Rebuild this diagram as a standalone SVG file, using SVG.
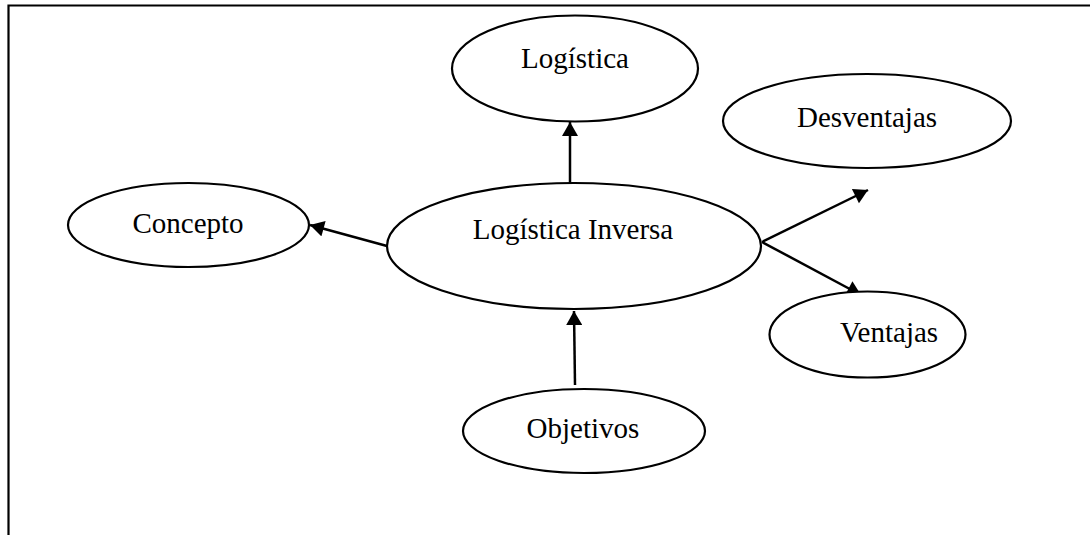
<svg xmlns="http://www.w3.org/2000/svg" width="1090" height="535" viewBox="0 0 1090 535">
  <style>
    .node ellipse { fill: #fff; stroke: #000; stroke-width: 2.2; }
    .node text { font-family: "Liberation Serif", "Times New Roman", serif; font-size: 29px; fill: #000; text-anchor: middle; }
    .edge { stroke: #000; stroke-width: 2.5; fill: none; marker-end: url(#arrow); }
    .frame { stroke: #000; stroke-width: 2.2; fill: none; }
  </style>
  <defs>
    <marker id="arrow" markerUnits="userSpaceOnUse" markerWidth="16" markerHeight="16" viewBox="0 0 14 16" refX="14" refY="8" orient="auto">
      <path d="M0,0 L14,8 L0,16 Z" fill="#000"/>
    </marker>
  </defs>
  <rect width="1090" height="535" fill="#fff"/>

  <!-- page frame: top and left rules -->
  <path class="frame" d="M8.5,535 L8.5,5.5 L1090,5.5"/>

  <!-- connectors -->
  <g id="connectors">
    <line class="edge" x1="570" y1="183" x2="570" y2="122"/>
    <line class="edge" x1="575" y1="385" x2="574" y2="311"/>
    <line class="edge" x1="387" y1="246" x2="310" y2="225"/>
    <line class="edge" x1="762" y1="242" x2="868" y2="190"/>
    <line class="edge" x1="762" y1="242" x2="861" y2="295"/>
  </g>

  <g id="logistica" class="node">
    <ellipse cx="575" cy="68.5" rx="123" ry="53"/>
    <text x="575" y="68">Logística</text>
  </g>

  <g id="logistica-inversa" class="node">
    <ellipse cx="574" cy="246" rx="187" ry="63"/>
    <text x="573" y="239">Logística Inversa</text>
  </g>

  <g id="concepto" class="node">
    <ellipse cx="188.5" cy="225" rx="120.5" ry="42"/>
    <text x="188" y="233">Concepto</text>
  </g>

  <g id="desventajas" class="node">
    <ellipse cx="867" cy="121" rx="144" ry="47"/>
    <text x="867" y="127">Desventajas</text>
  </g>

  <g id="ventajas" class="node">
    <ellipse cx="867.5" cy="334.5" rx="98" ry="43"/>
    <text x="889" y="342">Ventajas</text>
  </g>

  <g id="objetivos" class="node">
    <ellipse cx="584" cy="431" rx="121" ry="42"/>
    <text x="583" y="438">Objetivos</text>
  </g>
</svg>
